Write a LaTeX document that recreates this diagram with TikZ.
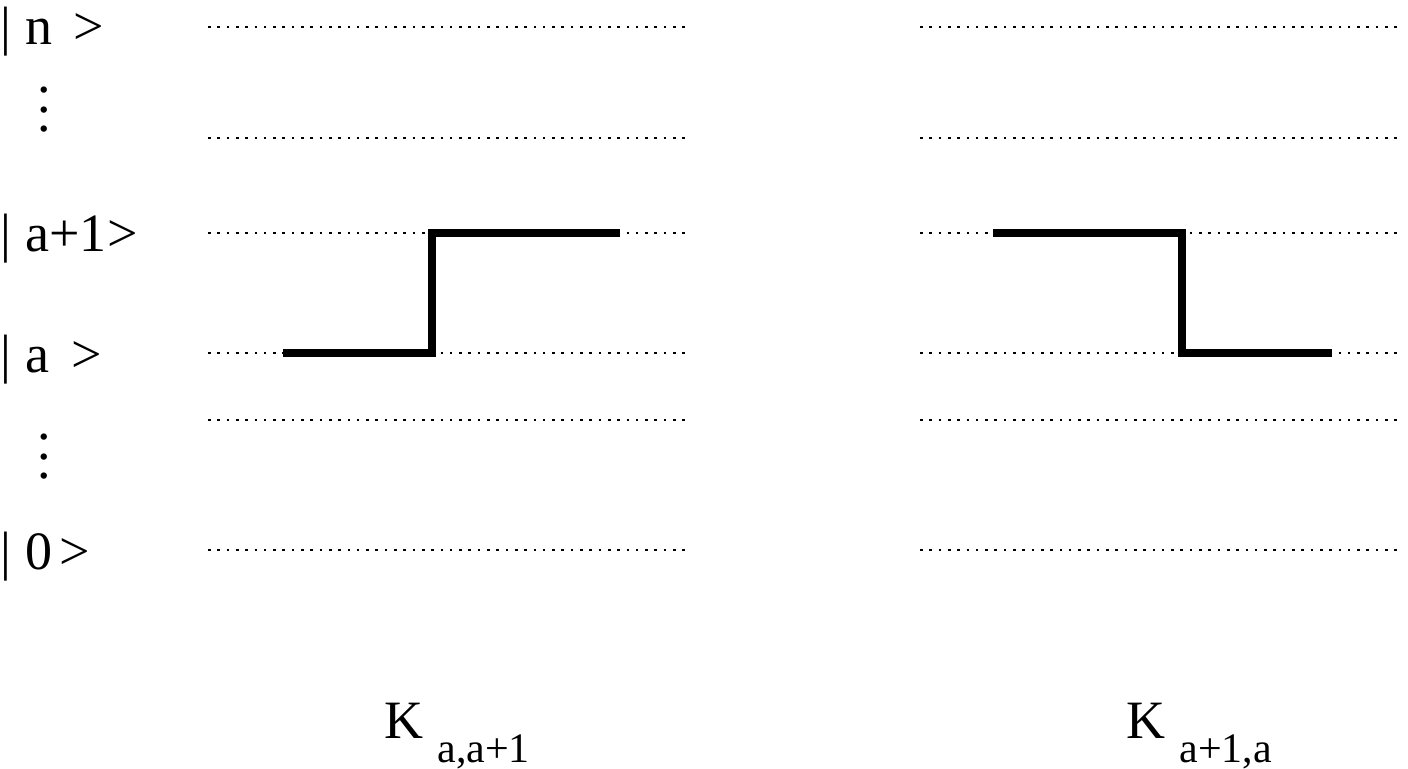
\documentclass[tikz,border=0pt]{standalone}
\usepackage{fontspec}
\setmainfont{Liberation Serif}
\newcommand{\levdots}{\vbox{\baselineskip=9.75pt\lineskiplimit=0pt\hbox{.}\hbox{.}\hbox{.}}}
\tikzset{
  level/.style={line width=1.2pt, dash pattern=on 1.3pt off 3.35pt},
  jump/.style={line width=4pt},
  ket/.style={anchor=base west, inner sep=0pt, font=\fontsize{27}{32}\selectfont},
  opname/.style={anchor=base west, inner sep=0pt, font=\fontsize{27}{32}\selectfont}
}
\newcommand{\subsc}[1]{\raisebox{-12pt}{\fontsize{21}{24}\selectfont #1}}
\begin{document}
\begin{tikzpicture}[x=0.5pt,y=-0.5pt]
\useasboundingbox (0,0) rectangle (1408,769);
% levels
\foreach \y in {27,138,233,353,420,550} {
  \draw[level] (208,\y) -- (690,\y);
  \draw[level] (920,\y) -- (1402,\y);
}
% kets
\node[ket] (ketn) at (0,45) {|\hspace{7pt}n\hspace{10.5pt}>};
\node[ket] (ketap) at (0,252) {|\hspace{7pt}a+1\hspace{0.5pt}>};
\node[ket] (keta) at (0,373) {|\hspace{7pt}a\hspace{11pt}>};
\node[ket] (ketz) at (0,570) {|\hspace{7pt}0\hspace{3.5pt}>};
\node[inner sep=0pt, font=\fontsize{27}{32}\selectfont] (dotsup) at (44,110) {\levdots};
\node[inner sep=0pt, font=\fontsize{27}{32}\selectfont] (dotsdn) at (44,457) {\levdots};
% steps
\draw[jump] (283,353) -- (432,353) -- (432,233) -- (620,233);
\draw[jump] (993,233) -- (1182,233) -- (1182,353) -- (1332,353);
% operators
\node[opname] (kup) at (384,738) {K\hspace{7pt}\subsc{a,a+1}};
\node[opname] (kdn) at (1126,738) {K\hspace{7pt}\subsc{a+1,a}};
\end{tikzpicture}
\end{document}
